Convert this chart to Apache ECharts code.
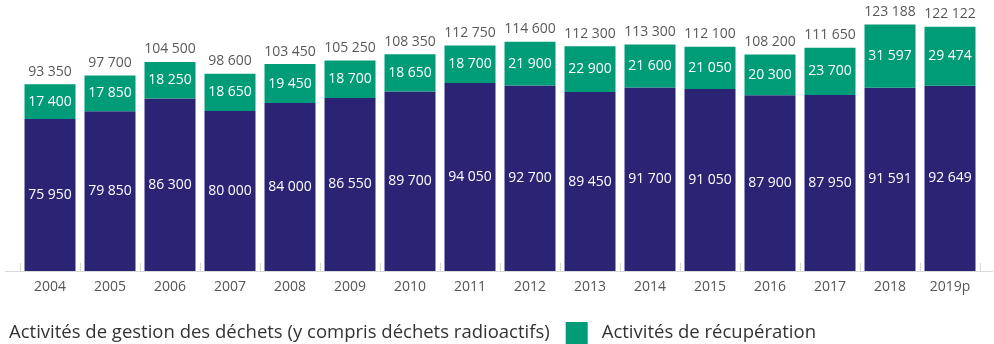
<!DOCTYPE html>
<html>
<head>
<meta charset="utf-8">
<script src="https://cdn.jsdelivr.net/npm/echarts@6/dist/echarts.min.js"></script>
<style>
  html, body { margin: 0; padding: 0; background: #ffffff; }
  #chart { width: 994px; height: 344px; }
</style>
</head>
<body>
<div id="chart"></div>
<script>
// Years shown on the category axis
const years = ['2004', '2005', '2006', '2007', '2008', '2009', '2010', '2011',
  '2012', '2013', '2014', '2015', '2016', '2017', '2018', '2019p'];

// Waste management activities (incl. radioactive waste)
const gestion = [75950, 79850, 86300, 80000, 84000, 86550, 89700, 94050,
  92700, 89450, 91700, 91050, 87900, 87950, 91591, 92649];

// Recovery activities
const recuperation = [17400, 17850, 18250, 18650, 19450, 18700, 18650, 18700,
  21900, 22900, 21600, 21050, 20300, 23700, 31597, 29474];

// Published totals, written above each stack
const totals = [93350, 97700, 104500, 98600, 103450, 105250, 108350, 112750,
  114600, 112300, 113300, 112100, 108200, 111650, 123188, 122122];

const nameGestion = 'Activités de gestion des déchets (y compris déchets radioactifs)';
const nameRecup = 'Activités de récupération';

const NAVY = '#2b2474';
const GREEN = '#009b77';
const FONT = '"Open Sans", "Noto Sans", sans-serif';

// French thousands separator: a space
const fmt = v => String(Math.round(v)).replace(/\B(?=(\d{3})+(?!\d))/g, ' ');

const chart = echarts.init(document.getElementById('chart'), null, { renderer: 'canvas' });

chart.setOption({
  animation: false,
  textStyle: { fontFamily: FONT },
  grid: { left: 20, right: 14, top: 21, bottom: 73, containLabel: false },
  legend: {
    data: [nameGestion, nameRecup],
    left: -32,
    top: 317,
    itemWidth: 22,
    itemHeight: 22,
    itemGap: 16,
    icon: 'rect',
    selectedMode: false,
    textStyle: { color: '#333333', fontSize: 18.5, fontFamily: FONT, padding: [0, 0, 0, 9] }
  },
  xAxis: {
    type: 'category',
    data: years,
    axisLine: { show: false },
    axisTick: { show: true, inside: true, length: 8, lineStyle: { color: '#d9d9d9' } },
    axisLabel: { color: '#555555', fontSize: 14, margin: 9, fontFamily: FONT }
  },
  yAxis: {
    type: 'value',
    min: 0,
    max: 125000,
    show: false,
    splitLine: { show: false }
  },
  graphic: [{
    type: 'line',
    shape: { x1: 5, y1: 271.5, x2: 993, y2: 271.5 },
    style: { stroke: '#d9d9d9', lineWidth: 1 },
    z: 1
  }],
  series: [
    {
      name: nameGestion,
      type: 'bar',
      stack: 'total',
      data: gestion,
      barCategoryGap: '15%',
      itemStyle: { color: NAVY },
      label: {
        show: true, position: 'inside', color: '#ffffff', fontSize: 14, fontFamily: FONT,
        formatter: p => fmt(p.value)
      }
    },
    {
      name: nameRecup,
      type: 'bar',
      stack: 'total',
      data: recuperation,
      barCategoryGap: '15%',
      itemStyle: { color: GREEN },
      label: {
        show: true, position: 'inside', color: '#ffffff', fontSize: 14, fontFamily: FONT,
        formatter: p => fmt(p.value)
      }
    },
    {
      name: 'Total',
      type: 'scatter',
      data: totals,
      symbol: 'circle',
      symbolSize: 1,
      itemStyle: { color: 'rgba(0,0,0,0)' },
      label: {
        show: true, position: 'top', distance: 5, color: '#2e2e2e', fontSize: 14, fontFamily: FONT,
        formatter: p => fmt(p.value)
      },
      emphasis: { disabled: true },
      z: 5
    }
  ]
});
</script>
</body>
</html>
